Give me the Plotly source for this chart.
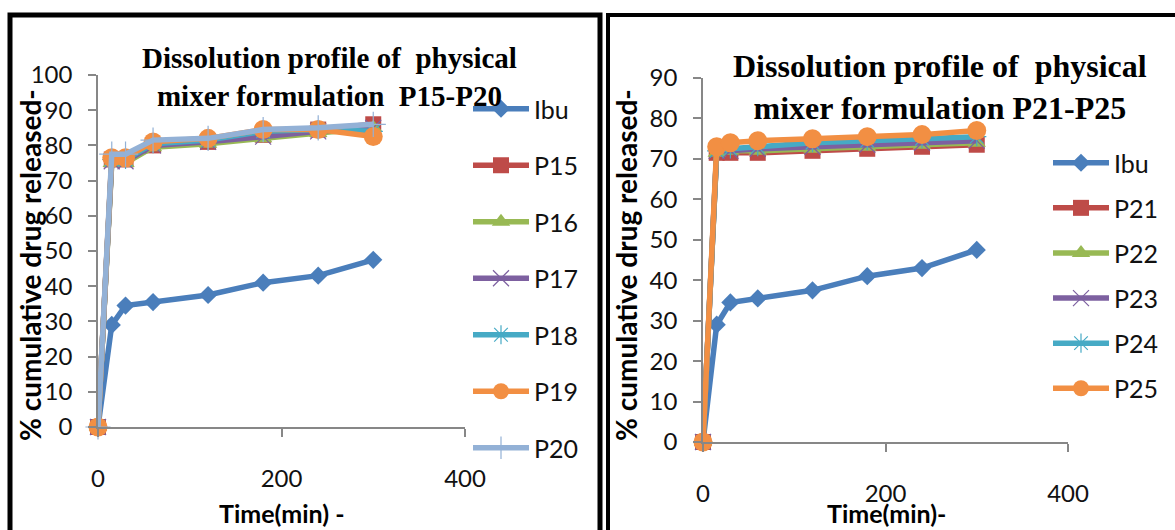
import plotly.graph_objects as go

# Sampling times (min) shared by every series
time_min = [0, 15, 30, 60, 120, 180, 240, 300]

# Pure drug reference
ibu = [0, 29, 34.5, 35.5, 37.5, 41, 43, 47.5]

# Physical mixer formulations P15-P20 (% cumulative drug released)
p15 = [0, 76, 76, 80, 81, 83, 84.5, 86]
p16 = [0, 75, 75, 79.5, 80.5, 82, 83.5, 85]
p17 = [0, 75.5, 75.5, 80, 81, 82.5, 84, 85]
p18 = [0, 76, 76, 80.5, 81.5, 84, 84.5, 84]
p19 = [0, 76.5, 76.5, 81, 82, 84.5, 84.5, 82.5]
p20 = [0, 77.5, 77.5, 81.5, 82, 84.5, 85, 86]

# Physical mixer formulations P21-P25
p21 = [0, 71.5, 71.5, 71.5, 72, 72.5, 73, 73.5]
p22 = [0, 71.5, 72, 72, 72.5, 73, 73.5, 74]
p23 = [0, 72, 72, 72.5, 73, 73.5, 74, 74.5]
p24 = [0, 72, 72.5, 73, 74, 74.5, 75, 75.5]
p25 = [0, 73, 74, 74.5, 75, 75.5, 76, 77]

left_names = ["Ibu", "P15", "P16", "P17", "P18", "P19", "P20"]
left_values = [ibu, p15, p16, p17, p18, p19, p20]
right_names = ["Ibu", "P21", "P22", "P23", "P24", "P25"]
right_values = [ibu, p21, p22, p23, p24, p25]

x_ticks = [0, 200, 400]
left_y_ticks = list(range(0, 101, 10))
right_y_ticks = list(range(0, 91, 10))

# Office-style series palette and marker shapes, in series order
colors = ["#4A7EBB", "#BE4B48", "#98B954", "#7D60A0", "#46AAC5", "#F28F43", "#93B1D6"]
symbols = ["diamond", "square", "triangle-up", "x-thin-open", "asterisk-open", "circle", "cross-thin-open"]
sizes = [14, 16, 16, 16, 16, 19, 18]

SANS = "Lato, Open Sans, sans-serif"
SERIF = "Liberation Serif, Times New Roman, serif"
W, H = 1175, 530


def px_x(v):
    return v / W


def px_y(v):
    return (H - v) / H


fig = go.Figure()


def add_series(names, values, xa, ya, legend):
    for i, (name, vals) in enumerate(zip(names, values)):
        thin = symbols[i].endswith("-open")
        fig.add_trace(go.Scatter(
            x=time_min, y=vals, name=name, mode="lines+markers",
            xaxis=xa, yaxis=ya, legend=legend, legendgroup=legend + name,
            line=dict(color=colors[i], width=5.5),
            marker=dict(symbol=symbols[i], size=sizes[i], color=colors[i],
                        line=dict(color=colors[i], width=1.2 if thin else 0)),
            cliponaxis=False,
        ))


add_series(left_names, left_values, "x", "y", "legend")
add_series(right_names, right_values, "x2", "y2", "legend2")

axis_common = dict(
    showline=True, linecolor="#878787", linewidth=1.5,
    ticks="outside", ticklen=8, tickcolor="#878787", tickwidth=1.5,
    showgrid=False, zeroline=False, automargin=False,
    tickfont=dict(family=SANS, size=24, color="#111111"),
)

fig.update_layout(
    width=W, height=H,
    margin=dict(l=0, r=0, t=0, b=0, autoexpand=False),
    paper_bgcolor="white", plot_bgcolor="white",
    showlegend=True,
    xaxis=dict(axis_common, domain=[px_x(98), px_x(465)], range=[0, 400],
               tickvals=x_ticks, anchor="y", ticklabelstandoff=21),
    yaxis=dict(axis_common, domain=[px_y(427), px_y(75)], range=[0, 100],
               tickvals=left_y_ticks, anchor="x", ticklabelstandoff=11),
    xaxis2=dict(axis_common, domain=[px_x(703), px_x(1068)], range=[0, 400],
                tickvals=x_ticks, anchor="y2", ticklabelstandoff=21),
    yaxis2=dict(axis_common, domain=[px_y(442), px_y(78)], range=[0, 90],
                tickvals=right_y_ticks, anchor="x2", ticklabelstandoff=11),
    legend=dict(x=px_x(468), y=px_y(86), xanchor="left", yanchor="top",
                font=dict(family=SANS, size=25, color="#111111"),
                itemwidth=56, tracegroupgap=21, bgcolor="rgba(0,0,0,0)"),
    legend2=dict(x=px_x(1048), y=px_y(140), xanchor="left", yanchor="top",
                 font=dict(family=SANS, size=25, color="#111111"),
                 itemwidth=56, tracegroupgap=9.6, bgcolor="rgba(0,0,0,0)"),
)

annotations = [
    # chart titles
    dict(text="Dissolution profile of  physical<br>mixer formulation  P15-P20",
         x=px_x(329), y=px_y(77), font=dict(family=SERIF, size=29, color="black")),
    dict(text="Dissolution profile of  physical<br>mixer formulation P21-P25",
         x=px_x(940), y=px_y(87), font=dict(family=SERIF, size=32, color="black")),
    # axis titles
    dict(text="<b>% cumulative drug released-</b>", x=px_x(30), y=px_y(265), textangle=-90,
         font=dict(family=SANS, size=28, color="black")),
    dict(text="<b>% cumulative drug released-</b>", x=px_x(626), y=px_y(265), textangle=-90,
         font=dict(family=SANS, size=28, color="black")),
    dict(text="<b>Time(min) -</b>", x=px_x(282), y=px_y(513),
         font=dict(family=SANS, size=25, color="black")),
    dict(text="<b>Time(min)-</b>", x=px_x(886), y=px_y(513),
         font=dict(family=SANS, size=25, color="black")),
]
for a in annotations:
    a.update(xref="paper", yref="paper", showarrow=False, xanchor="center", yanchor="middle")
    if "Dissolution" in a["text"]:
        a["text"] = "<b>" + a["text"].replace("<br>", "</b><br><b>") + "</b>"
fig.update_layout(annotations=annotations)

# black frames around the two chart panels
fig.update_layout(shapes=[
    dict(type="rect", xref="paper", yref="paper",
         x0=px_x(10), x1=px_x(600), y0=-0.2, y1=px_y(15),
         line=dict(color="black", width=5)),
    dict(type="rect", xref="paper", yref="paper",
         x0=px_x(608), x1=1.2, y0=-0.2, y1=px_y(15),
         line=dict(color="black", width=4)),
])

fig.write_html("out.html")
